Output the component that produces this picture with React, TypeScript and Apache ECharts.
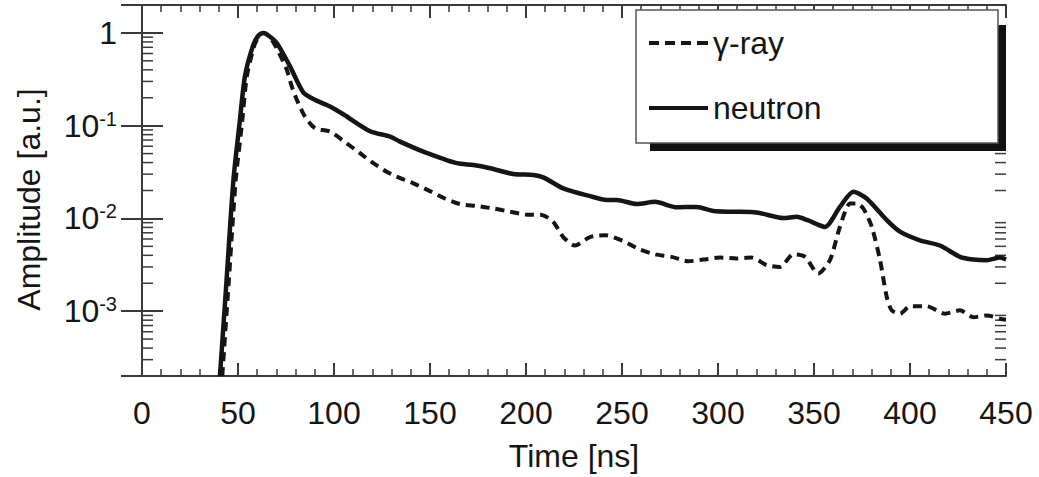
import React, { useEffect, useRef } from "react";
import * as echarts from "echarts";

// ---- data ----
const gammaTime = [
  41.8, 45.2, 48.8, 52.2, 54.6, 58.6, 61.5, 63.5, 66.5, 71.0, 75.4, 78.0, 81.4, 84.9, 90.1, 97.9,
  106.6, 113.5, 120.5, 127.4, 132.6, 141.3, 150.0, 157.8, 165.6, 174.3, 183.0, 191.7, 199.5, 208.2,
  214.2, 219.4, 225.5, 233.3, 241.1, 250.7, 258.5, 267.2, 275.9, 284.5, 292.3, 301.0, 309.7, 317.6,
  325.4, 332.3, 339.2, 345.3, 352.2, 358.3, 363.5, 368.8, 372.2, 375.7, 380.1, 384.4, 387.9, 390.5,
  394.8, 400.0, 408.7, 418.2, 426.0, 433.0, 440.0, 446.9, 450.0,
];
const gammaAmp = [
  0.0002, 0.0021, 0.0257, 0.112, 0.339, 0.741, 0.955, 1.0, 0.912, 0.632, 0.401, 0.265, 0.175, 0.125,
  0.094, 0.0863, 0.0647, 0.0505, 0.0394, 0.0319, 0.0282, 0.0239, 0.0197, 0.0164, 0.0143, 0.0136,
  0.0128, 0.0118, 0.011, 0.0109, 0.0092, 0.0063, 0.0051, 0.0063, 0.0066, 0.0057, 0.0047, 0.0041,
  0.00385, 0.00345, 0.0036, 0.00378, 0.0037, 0.00378, 0.00313, 0.003, 0.0041, 0.00385, 0.00254,
  0.00355, 0.0081, 0.0145, 0.0145, 0.0128, 0.0081, 0.00355, 0.00142, 0.00102, 0.00094, 0.00113,
  0.00113, 0.00094, 0.00102, 0.00086, 0.0009, 0.00083, 0.00081,
];
const neutronTime = [
  40.6, 44.0, 47.6, 51.0, 53.6, 58.0, 61.0, 63.2, 66.0, 70.2, 77.1, 84.0, 90.0, 97.9, 105.0, 118.8,
  129.2, 134.4, 146.5, 163.9, 172.6, 181.3, 193.4, 203.8, 209.0, 219.4, 233.3, 242.0, 247.2, 257.7,
  267.2, 278.5, 288.9, 297.6, 308.0, 320.2, 334.0, 341.0, 347.0, 355.7, 363.5, 370.5, 377.4, 387.9,
  394.8, 405.2, 415.6, 426.0, 433.0, 440.0, 446.9, 450.0,
];
const neutronAmp = [
  0.0002, 0.0021, 0.0257, 0.115, 0.339, 0.748, 0.955, 1.0, 0.933, 0.78, 0.436, 0.229, 0.19, 0.161,
  0.132, 0.087, 0.0762, 0.0673, 0.0525, 0.0394, 0.0377, 0.0348, 0.0301, 0.0294, 0.0277, 0.0211,
  0.0174, 0.0158, 0.0158, 0.0143, 0.0151, 0.0132, 0.0133, 0.012, 0.0118, 0.0116, 0.0101, 0.0104,
  0.0095, 0.0081, 0.0133, 0.0194, 0.0164, 0.0096, 0.0072, 0.0058, 0.0051, 0.00385, 0.0036, 0.00354,
  0.00378, 0.0036,
];

const seriesNames = ["γ-ray", "neutron"];
const xMin = 0;
const xMax = 450;
const xInterval = 50;
const yMin = 0.0002;
const yMax = 2;
// exponent labels for the decade ticks
const yDecadeValues = [1, 0.1, 0.01, 0.001];
const yDecadeLabels = ["{b|1}", "{b|10}{s|-1}", "{b|10}{s|-2}", "{b|10}{s|-3}"];
// minor (2..9 × decade) tick positions on the log axis
const yMinorTicks = [
  0.0003, 0.0004, 0.0005, 0.0006, 0.0007, 0.0008, 0.0009,
  0.002, 0.003, 0.004, 0.005, 0.006, 0.007, 0.008, 0.009,
  0.02, 0.03, 0.04, 0.05, 0.06, 0.07, 0.08, 0.09,
  0.2, 0.3, 0.4, 0.5, 0.6, 0.7, 0.8, 0.9,
];

const FONT = "'Liberation Sans', Arial, Helvetica, sans-serif";
const INK = "#151515";
const AXIS = "#3a3a3a";

// legend sample icons: dashed and solid line strokes
const ICON_DASHED = "path://M0,0h10v4h-10z M16,0h10v4h-10z M32,0h10v4h-10z M48,0h11v4h-11z";
const ICON_SOLID = "path://M0,0h59v4h-59z";

export default function App() {
  const ref = useRef<HTMLDivElement>(null);

  useEffect(() => {
    if (!ref.current) return;
    const chart = echarts.init(ref.current, undefined, { renderer: "svg" });

    const zip = (xs: number[], ys: number[]) => xs.map((x, i) => [x, ys[i]]);

    const axisLineStyle = { lineStyle: { color: AXIS, width: 2 } };

    const option: any = {
      animation: false,
      backgroundColor: "#ffffff",
      textStyle: { fontFamily: FONT },
      grid: { left: 142, right: 33, top: 5, bottom: 101, containLabel: false },
      xAxis: [
        {
          type: "value",
          position: "bottom",
          min: xMin,
          max: xMax,
          interval: xInterval,
          axisLine: { show: true, ...axisLineStyle },
          axisTick: { show: true, inside: true, length: 13, lineStyle: { color: AXIS, width: 2 } },
          minorTick: { show: true, splitNumber: 5, length: 7, lineStyle: { color: AXIS, width: 1.5 } },
          splitLine: { show: false },
          minorSplitLine: { show: false },
          axisLabel: { color: INK, fontSize: 32, fontFamily: FONT, margin: 21 },
          name: "Time [ns]",
          nameLocation: "middle",
          nameGap: 64,
          nameTextStyle: { color: INK, fontSize: 32, fontFamily: FONT },
        },
        {
          type: "value",
          position: "top",
          min: xMin,
          max: xMax,
          interval: xInterval,
          axisLine: { show: true, ...axisLineStyle },
          axisTick: { show: true, inside: true, length: 13, lineStyle: { color: AXIS, width: 2 } },
          minorTick: { show: true, splitNumber: 5, length: 7, lineStyle: { color: AXIS, width: 1.5 } },
          splitLine: { show: false },
          axisLabel: { show: false },
        },
      ],
      yAxis: [
        {
          type: "log",
          position: "left",
          min: yMin,
          max: yMax,
          logBase: 10,
          axisLine: { show: true, ...axisLineStyle },
          axisTick: { show: true, inside: true, length: 21, lineStyle: { color: AXIS, width: 2 } },
          splitLine: { show: false },
          axisLabel: {
            showMinLabel: false,
            showMaxLabel: false,
            margin: 25,
            color: INK,
            fontFamily: FONT,
            formatter: (v: number) => {
              const i = yDecadeValues.findIndex((d) => Math.abs(d - v) / d < 1e-6);
              return i >= 0 ? yDecadeLabels[i] : "";
            },
            rich: {
              b: { fontSize: 32, color: INK, fontFamily: FONT, lineHeight: 34 },
              s: { fontSize: 20, color: INK, fontFamily: FONT, verticalAlign: "top", lineHeight: 20 },
            },
          },
          name: "Amplitude [a.u.]",
          nameLocation: "middle",
          nameGap: 97,
          nameRotate: 90,
          nameTextStyle: { color: INK, fontSize: 32, fontFamily: FONT, padding: [0, 18, 0, 0] },
        },
        {
          type: "log",
          position: "right",
          min: yMin,
          max: yMax,
          logBase: 10,
          axisLine: { show: true, ...axisLineStyle },
          axisTick: { show: true, inside: true, length: 21, lineStyle: { color: AXIS, width: 2 } },
          splitLine: { show: false },
          axisLabel: { show: false },
        },
      ],
      legend: {
        data: [
          { name: seriesNames[0], icon: ICON_DASHED },
          { name: seriesNames[1], icon: ICON_SOLID },
        ],
        orient: "vertical",
        left: 649,
        top: 27,
        padding: 0,
        itemWidth: 59,
        itemHeight: 4,
        itemGap: 33,
        itemTextGap: 10,
        itemStyle: { color: INK, borderWidth: 0 },
        textStyle: { color: INK, fontSize: 32, fontFamily: FONT, lineHeight: 32 },
        z: 10,
      },
      graphic: [
        {
          type: "rect",
          z: 8,
          shape: { x: 650, y: 25, width: 356, height: 126 },
          style: { fill: "#111111" },
          silent: true,
        },
        {
          type: "rect",
          z: 9,
          shape: { x: 636, y: 10, width: 362, height: 133 },
          style: { fill: "#ffffff", stroke: "#555555", lineWidth: 1.5 },
          silent: true,
        },
      ],
      series: [
        {
          name: seriesNames[0],
          type: "line",
          data: zip(gammaTime, gammaAmp),
          showSymbol: false,
          symbol: "none",
          smooth: 0.25,
          lineStyle: { color: INK, width: 4, type: [9, 6] },
          itemStyle: { color: INK },
          z: 3,
        },
        {
          name: seriesNames[1],
          type: "line",
          data: zip(neutronTime, neutronAmp),
          showSymbol: false,
          symbol: "none",
          smooth: 0.25,
          lineStyle: { color: INK, width: 4.5, type: "solid" },
          itemStyle: { color: INK },
          z: 4,
        },
        {
          name: "minorTicks",
          type: "custom",
          silent: true,
          clip: false,
          z: 2,
          data: yMinorTicks.map((v) => [xMin, v]),
          renderItem: (params: any, api: any) => {
            const cs = params.coordSys;
            const y = api.coord([xMin, api.value(1)])[1];
            const st = { stroke: AXIS, lineWidth: 1.5 };
            return {
              type: "group",
              children: [
                { type: "line", shape: { x1: cs.x, y1: y, x2: cs.x + 11, y2: y }, style: st },
                {
                  type: "line",
                  shape: { x1: cs.x + cs.width - 11, y1: y, x2: cs.x + cs.width, y2: y },
                  style: st,
                },
              ],
            };
          },
        },
      ],
    };

    chart.setOption(option);
    return () => chart.dispose();
  }, []);

  return (
    <div
      ref={ref}
      style={{ position: "absolute", left: 0, top: 0, width: 1039, height: 477, background: "#fff" }}
    />
  );
}
